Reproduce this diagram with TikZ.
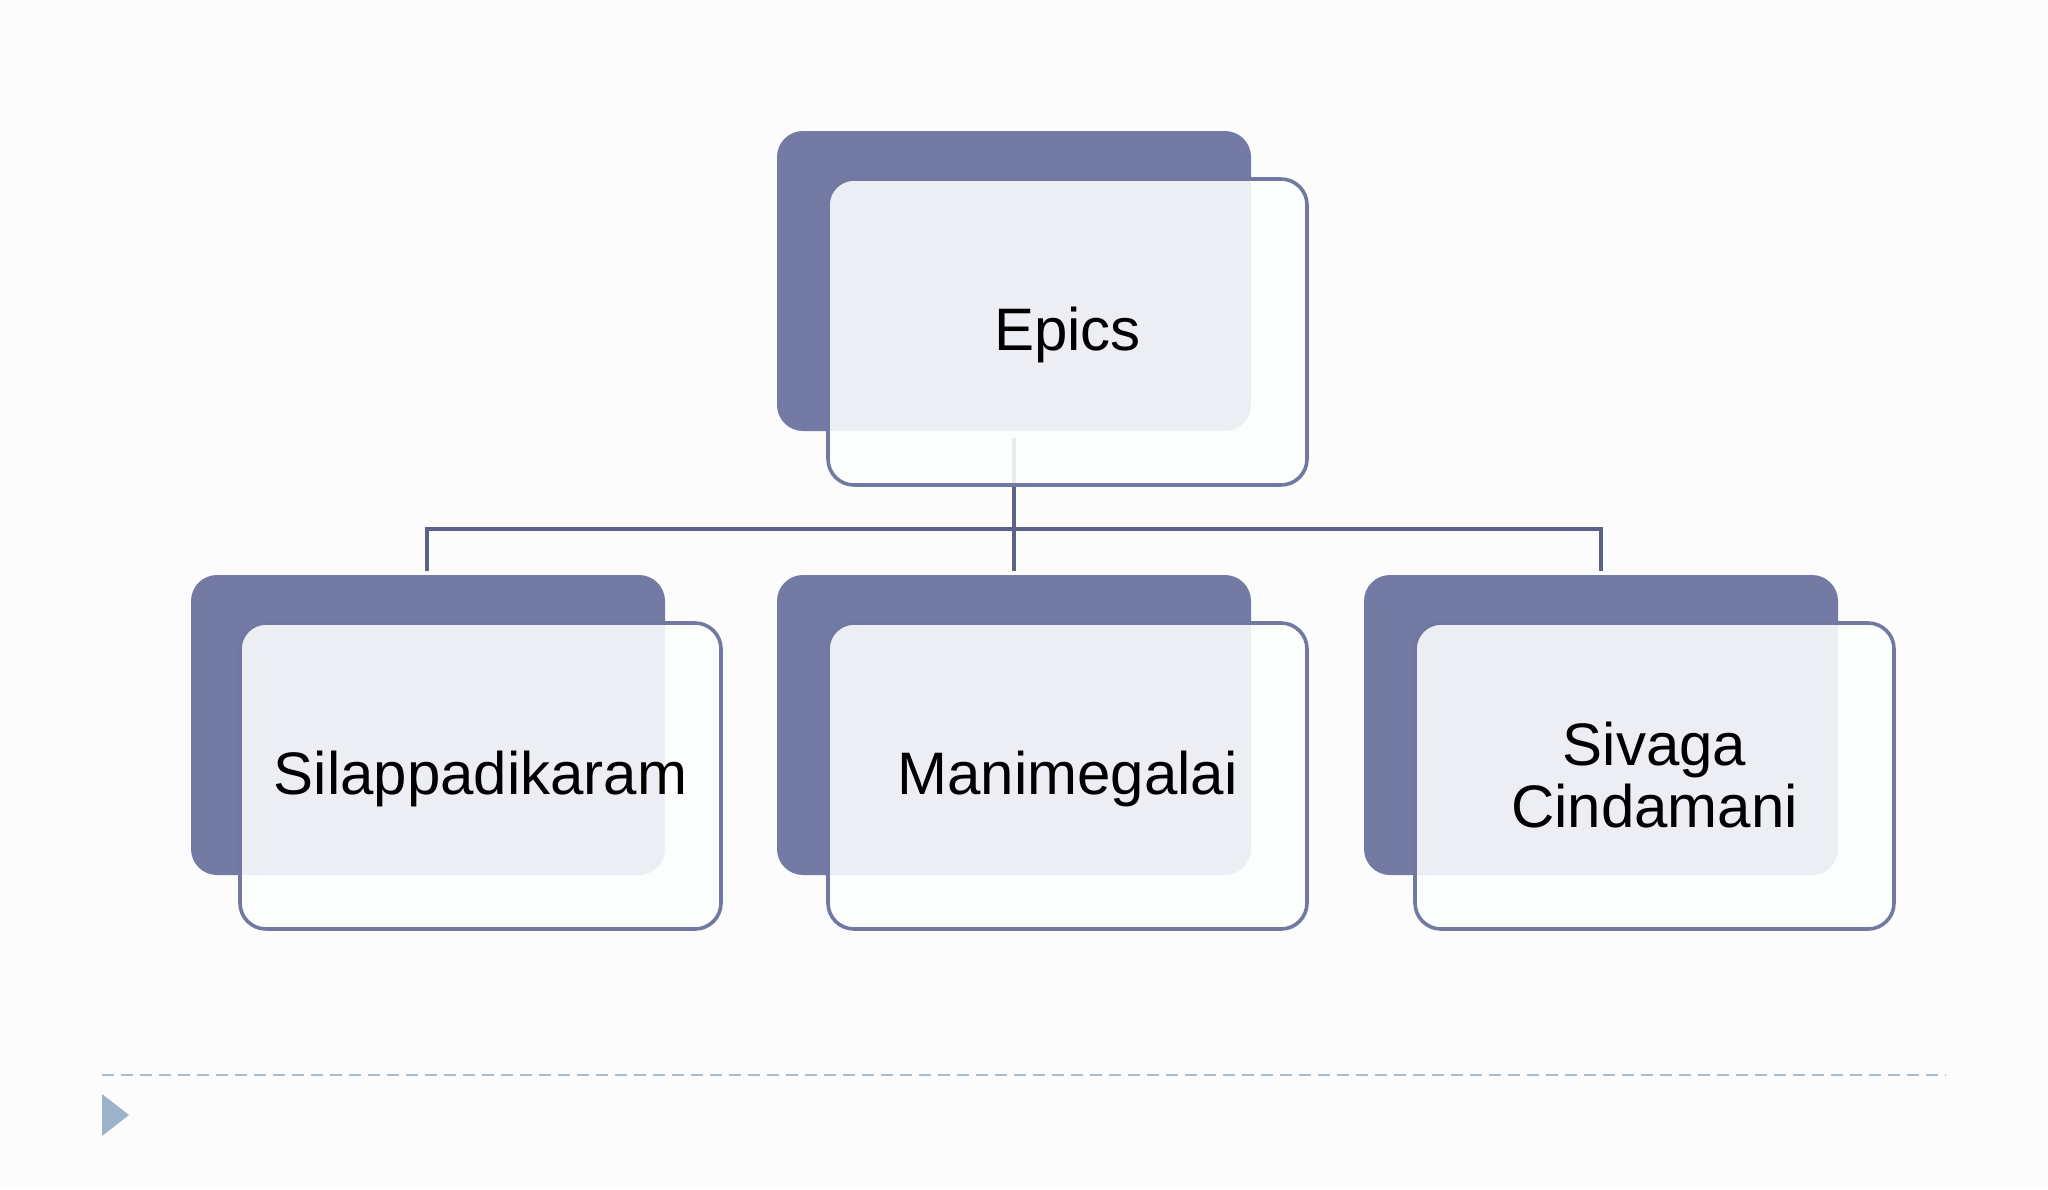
\documentclass[tikz,border=0pt]{standalone}
\usepackage{fontspec}
\setmainfont{Liberation Sans}
\definecolor{backbox}{HTML}{737BA5}
\definecolor{frontline}{HTML}{7179A2}
\definecolor{conn}{HTML}{5A6286}
\definecolor{dashc}{HTML}{A9BCCB}
\definecolor{tric}{HTML}{9DB3C9}
\definecolor{bgc}{HTML}{FCFCFD}
\definecolor{frontfill}{HTML}{FDFFFF}
\tikzset{
  backrect/.style={fill=backbox, rounded corners=13pt},
  frontrect/.style={draw=frontline, line width=1.8pt, fill=frontfill, fill opacity=0.88, rounded corners=13pt},
  lbl/.style={font=\fontsize{30}{31}\selectfont, text=black, align=center},
  connline/.style={draw=conn, line width=1.6pt}
}
\begin{document}
\begin{tikzpicture}[x=0.5pt,y=-0.5pt]
\fill[bgc] (0,0) rectangle (2048,1189);
\useasboundingbox (0,0) rectangle (2048,1189);
% back boxes
\path[backrect] (777,131) rectangle (1251,431);
\path[backrect] (191,575) rectangle (665,875);
\path[backrect] (777,575) rectangle (1251,875);
\path[backrect] (1364,575) rectangle (1838,875);
% connector anchors
\coordinate (top) at (1014,438);
\coordinate (jc) at (1014,529);
\coordinate (jl) at (427,529);
\coordinate (jr) at (1601,529);
\coordinate (cl) at (427,571);
\coordinate (cc) at (1014,571);
\coordinate (cr) at (1601,571);
\draw[connline] (top) -- (cc);
\draw[connline] (cl) -- (jl) -- (jr) -- (cr);
% front boxes
\path[frontrect] (828,179) rectangle (1307,485);
\path[frontrect] (240,623) rectangle (721,929);
\path[frontrect] (828,623) rectangle (1307,929);
\path[frontrect] (1415,623) rectangle (1894,929);
% labels
\node[lbl] (epics) at (1067.5,335) {Epics};
\node[lbl] (sil) at (480.5,779) {Silappadikaram};
\node[lbl] (mani) at (1067.5,779) {Manimegalai};
\node[lbl] (siva) at (1654.5,775) {Sivaga\\Cindamani};
% footer
\coordinate (dl) at (102,1075);
\coordinate (dr) at (1946,1075);
\draw[dashc, line width=1.2pt, dash pattern=on 6pt off 3.5pt] (dl) -- (dr);
\fill[tric] (102,1094) -- (129,1115) -- (102,1136) -- cycle;
\end{tikzpicture}
\end{document}
